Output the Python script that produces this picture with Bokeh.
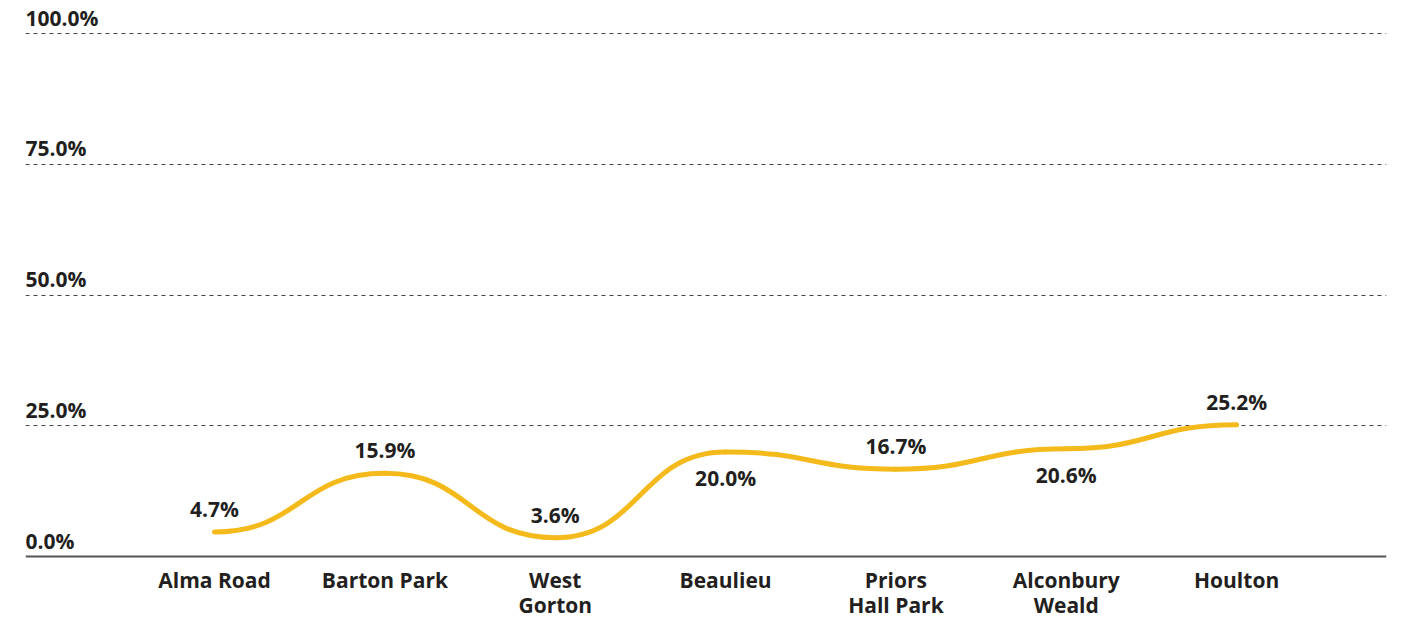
from bokeh.plotting import figure
from bokeh.models import Range1d, FixedTicker, Grid, Span
from bokeh.core.properties import value
from bokeh.embed import file_html
from bokeh.resources import INLINE

categories = ["Alma Road", "Barton Park", "West\nGorton", "Beaulieu",
              "Priors\nHall Park", "Alconbury\nWeald", "Houlton"]
values = [4.7, 15.9, 3.6, 20.0, 16.7, 20.6, 25.2]
value_labels = ["4.7%", "15.9%", "3.6%", "20.0%", "16.7%", "20.6%", "25.2%"]
y_ticks = [0, 25, 50, 75, 100]
y_tick_labels = ["0.0%", "25.0%", "50.0%", "75.0%", "100.0%"]
label_side = ["above", "above", "above", "below", "above", "below", "above"]

FONT = "Open Sans"
TEXT = "#231f20"
GOLD = "#F4BA1C"
FS = "21px"

H = 618
X0, X1 = -1.11, 6.88
PX_PER_PCT = 5.23
Y1 = 100 + 33 / PX_PER_PCT
Y0 = -(H - 556) / PX_PER_PCT
xs = list(range(len(values)))

p = figure(width=1400, height=H, output_backend="svg", toolbar_location=None,
           x_range=Range1d(X0, X1), y_range=Range1d(Y0, Y1),
           x_axis_location=None, y_axis_location=None,
           min_border_left=25, min_border_right=14, min_border_top=0,
           min_border_bottom=0)
p.outline_line_color = None
p.background_fill_color = "white"
p.border_fill_color = "white"
p.center = []  # drop default grids

# dashed horizontal grid lines
grid = Grid(dimension=1, ticker=FixedTicker(ticks=[t for t in y_ticks if t > 0]),
            grid_line_color="#444444", grid_line_dash="4 4", grid_line_width=1)
p.add_layout(grid)

# baseline (category axis line at 0%)
p.add_layout(Span(location=0, dimension="width", line_color="#555555",
                  line_width=2))

# y tick labels (above the grid lines at the left edge)
p.text(x=[X0] * len(y_ticks), y=y_ticks, text=y_tick_labels,
       text_font=value(FONT), text_font_style="bold", text_font_size=FS,
       text_color=TEXT, text_align="left", text_baseline="bottom",
       y_offset=-2)

# category labels below the baseline
p.text(x=xs, y=[0] * len(xs), text=categories,
       text_font=value(FONT), text_font_style="bold", text_font_size=FS,
       text_color=TEXT, text_align="center", text_baseline="top",
       text_line_height=0.9, y_offset=9)

# smooth line: horizontal tangents at each point
p.bezier(x0=xs[:-1], y0=values[:-1], x1=xs[1:], y1=values[1:],
         cx0=[x + 0.5 for x in xs[:-1]], cy0=values[:-1],
         cx1=[x + 0.5 for x in xs[:-1]], cy1=values[1:],
         line_color=GOLD, line_width=5, line_cap="round")

# value labels
ab = [i for i, s in enumerate(label_side) if s == "above"]
be = [i for i, s in enumerate(label_side) if s == "below"]
p.text(x=[xs[i] for i in ab], y=[values[i] for i in ab],
       text=[value_labels[i] for i in ab],
       text_font=value(FONT), text_font_style="bold", text_font_size=FS,
       text_color=TEXT, text_align="center", text_baseline="middle",
       y_offset=-23)
p.text(x=[xs[i] for i in be], y=[values[i] for i in be],
       text=[value_labels[i] for i in be],
       text_font=value(FONT), text_font_style="bold", text_font_size=FS,
       text_color=TEXT, text_align="center", text_baseline="middle",
       y_offset=26)

open("out.html", "w").write(file_html(p, INLINE))
